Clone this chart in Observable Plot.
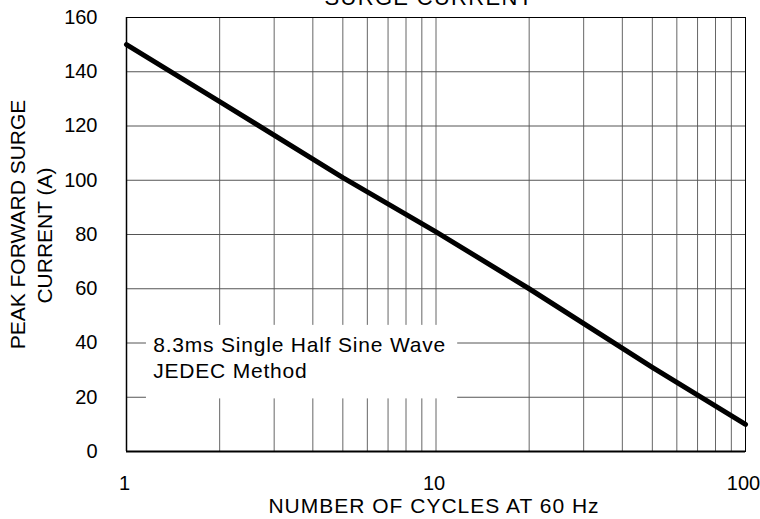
<!DOCTYPE html>
<html><head><meta charset="utf-8">
<script src="https://cdn.jsdelivr.net/npm/d3@7"></script>
<script src="https://cdn.jsdelivr.net/npm/@observablehq/plot@0.6"></script>
<style>html,body{margin:0;padding:0;background:#fff;} svg{display:block}</style>
</head><body><div id="chart"></div>
<script>
// Data
const cycles = [1, 2, 5, 10, 20, 50, 100];
const current = [150, 129, 101, 81, 60, 31, 10];
// Axes / ticks
const xTicks = [1, 10, 100];
const xGrid = [2, 3, 4, 5, 6, 7, 8, 9, 10, 20, 30, 40, 50, 60, 70, 80, 90];
const yTicks = [0, 20, 40, 60, 80, 100, 120, 140, 160];
// Texts
const titleText = ["SURGE CURRENT"];
const xLabel = ["NUMBER OF CYCLES AT 60 Hz"];
const yLabel1 = ["PEAK FORWARD SURGE"];
const yLabel2 = ["CURRENT (A)"];
const noteText = ["8.3ms Single Half Sine Wave\nJEDEC Method"];
// Annotation placement (data units)
const noteBox = [{x1: 1.16, x2: 11.75, y1: 19.4, y2: 46.5}];
const notePos = [{x: 1.22, y: 34.8}];

const series = cycles.map((c, i) => ({cycles: c, current: current[i]}));

const chart = Plot.plot({
  width: 760,
  height: 519,
  marginLeft: 126,
  marginRight: 15,
  marginTop: 17,
  marginBottom: 68,
  style: {fontFamily: "'Liberation Sans', Arial, sans-serif", background: "#fff", color: "#000", overflow: "visible"},
  x: {type: "log", domain: [1, 100]},
  y: {domain: [0, 160]},
  marks: [
    Plot.gridX(xGrid, {stroke: "#666", strokeOpacity: 1, strokeWidth: 1}),
    Plot.gridY(yTicks, {stroke: "#555", strokeOpacity: 1, strokeWidth: 1}),
    Plot.rect(noteBox, {x1: "x1", x2: "x2", y1: "y1", y2: "y2", fill: "#fff"}),
    Plot.frame({stroke: "#000", strokeWidth: 1}),
    Plot.ruleY([0], {stroke: "#000", strokeWidth: 1.8}),
    Plot.ruleX([1], {stroke: "#000", strokeWidth: 1.5}),
    Plot.axisX(xTicks, {tickSize: 0, tickPadding: 24, fontSize: 20, dx: -2, tickFormat: d => String(d), label: null}),
    Plot.axisY(yTicks, {tickSize: 0, tickPadding: 29, fontSize: 20, label: null}),
    Plot.line(series, {x: "cycles", y: "current", stroke: "#000", strokeWidth: 5}),
    Plot.text(noteText, {x: notePos[0].x, y: notePos[0].y, text: d => d, textAnchor: "start", fontSize: 21, lineHeight: 1.24, fill: "#000"}),
    Plot.text(xLabel, {frameAnchor: "bottom", dx: -2, dy: 61, lineAnchor: "bottom", textAnchor: "middle", text: d => d, fontSize: 21, fill: "#000"}),
    Plot.text(titleText, {frameAnchor: "top", dx: -7, dy: -13, lineAnchor: "bottom", textAnchor: "middle", text: d => d, fontSize: 22, fill: "#000"}),
    Plot.text(yLabel1, {frameAnchor: "left", dx: -108, dy: -10, rotate: -90, textAnchor: "middle", text: d => d, fontSize: 21, fill: "#000"}),
    Plot.text(yLabel2, {frameAnchor: "left", dx: -81, dy: 1, rotate: -90, textAnchor: "middle", text: d => d, fontSize: 21, fill: "#000"})
  ]
});
const spacing = (prefix, px) => d3.select(chart).selectAll("text")
  .filter(function() { return this.textContent.startsWith(prefix); })
  .style("letter-spacing", px);
spacing("8.3ms", "0.8px");
spacing("NUMBER OF", "1px");
spacing("SURGE CURRENT", "1.3px");
document.getElementById("chart").appendChild(chart);
</script>
</body></html>
